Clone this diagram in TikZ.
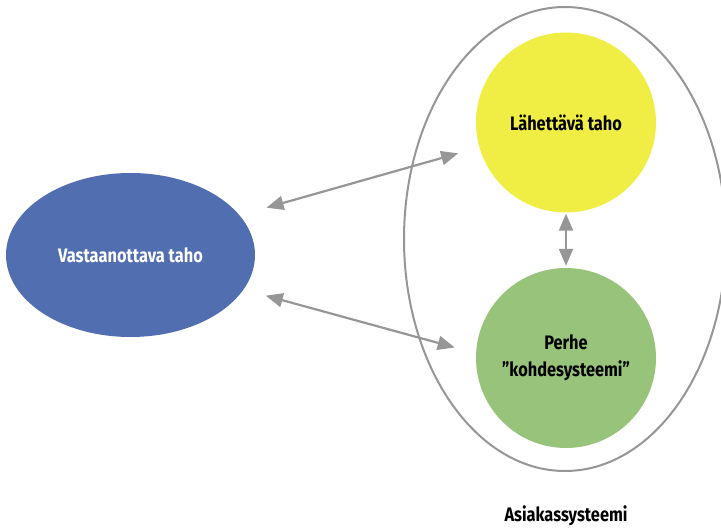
\documentclass[tikz,border=0pt]{standalone}
\usepackage{fontspec}
\usepackage{tikz}
\usetikzlibrary{shapes.geometric,arrows.meta}
\newfontfamily\kapea{Fira Sans}[FakeStretch=0.84]

\definecolor{sininen}{RGB}{80,110,176}
\definecolor{keltainen}{RGB}{240,238,68}
\definecolor{vihrea}{RGB}{151,196,122}
\definecolor{harmaa}{RGB}{150,150,150}

\tikzset{
  teksti/.style={font=\kapea\bfseries\fontsize{19.5}{27}\selectfont, align=center},
  pallo/.style={circle, minimum size=180pt, inner sep=0pt, teksti},
  nuoli/.style={draw=harmaa, line width=2.2pt,
    {Triangle[length=17pt,width=14pt]}-{Triangle[length=17pt,width=14pt]}}
}

\begin{document}
\begin{tikzpicture}[x=1pt,y=-1pt]
            \useasboundingbox (0,0) rectangle (721,529);

            \node[ellipse, draw=harmaa, line width=2pt, minimum width=322pt, minimum height=464pt] (asiakas) at (565,239) {};
            \node[teksti] (asiakasteksti) at (566,516) {Asiakassysteemi};

            \node[ellipse, fill=sininen, minimum width=249pt, minimum height=164pt, teksti, text=white] (vast) at (130.5,255) {Vastaanottava taho};
            \node[pallo, fill=keltainen] (lahe) at (566,122.5) {L\"ahett\"av\"a taho};
            \node[pallo, fill=vihrea] (perhe) at (566,358) {Perhe\\\textquotedblright kohdesysteemi\textquotedblright};

            \draw[nuoli, shorten <=28pt, shorten >=22pt] (vast.20) -- (lahe.196);
            \draw[nuoli, shorten <=23pt, shorten >=22pt] (vast.-17) -- (perhe.177);
            \draw[nuoli, shorten <=1pt, shorten >=2pt] (lahe.south) -- (perhe.north);
        \end{tikzpicture}
\end{document}
